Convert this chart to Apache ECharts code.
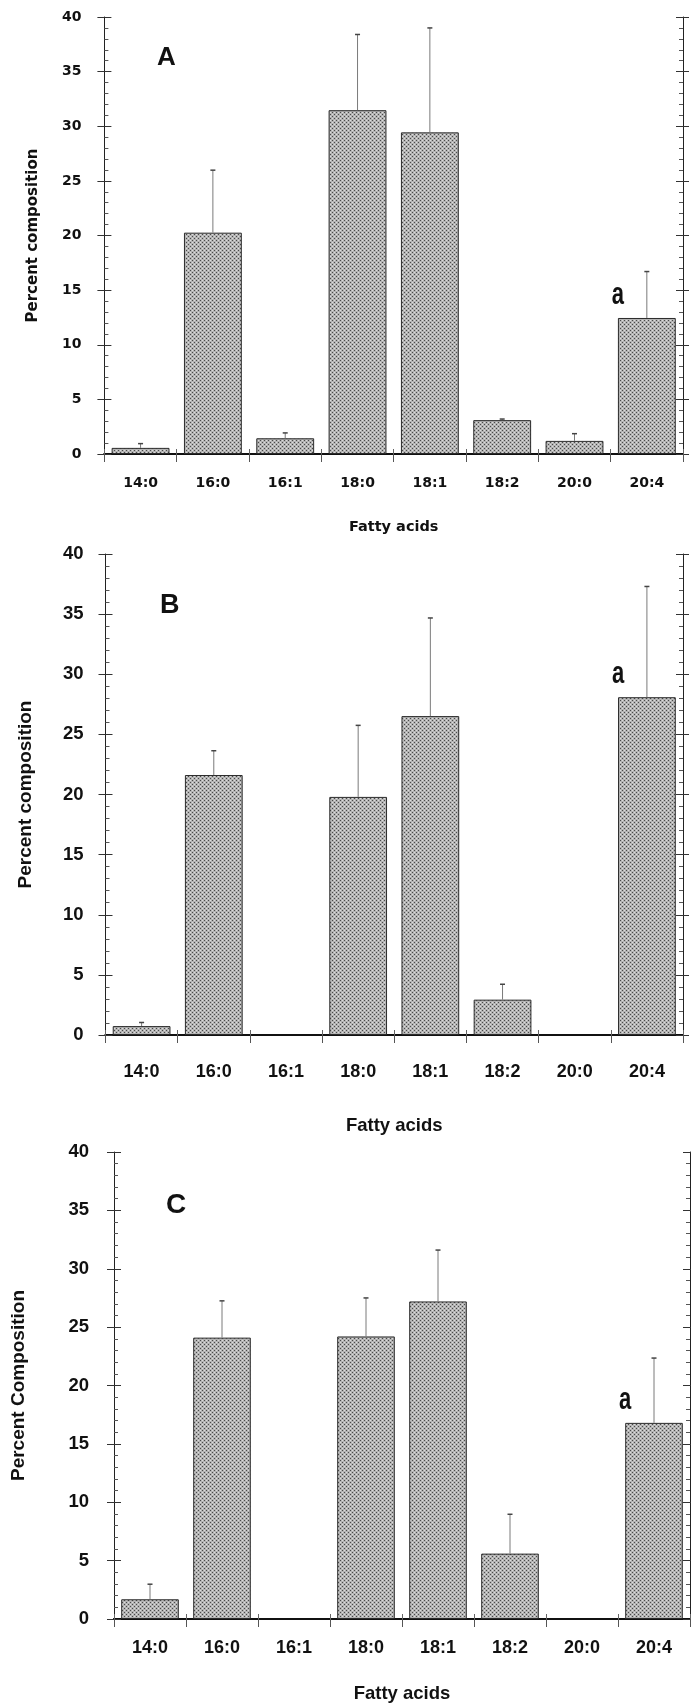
<!DOCTYPE html>
<html><head><meta charset="utf-8">
<script src="https://cdn.jsdelivr.net/npm/echarts@6/dist/echarts.min.js"></script>
<style>html,body{margin:0;padding:0;background:#fff}#c{width:691px;height:1706px}</style>
</head><body><div id="c"></div>
<script>
const categories = ['14:0','16:0','16:1','18:0','18:1','18:2','20:0','20:4'];

const valuesA = [0.56, 20.26, 1.44, 31.47, 29.44, 3.10, 1.20, 12.45];
const upperA  = [0.95, 25.98, 1.93, 38.40, 39.00, 3.20, 1.86, 16.70];

const valuesB = [0.74, 21.62, null, 19.80, 26.52, 2.94, null, 28.09];
const upperB  = [1.04, 23.64, null, 25.75, 34.68, 4.22, null, 37.30];

const valuesC = [1.69, 24.10, null, 24.20, 27.20, 5.60, null, 16.80];
const upperC  = [2.98, 27.25, null, 27.50, 31.60, 8.97, null, 22.35];

const panelLetters = ['A', 'B', 'C'];
const yTitles = ['Percent composition', 'Percent composition', 'Percent Composition'];
const xTitle = 'Fatty acids';
const annotIndex = 7;      // 'a' marker over 20:4
const annotText = 'a';

const panels = [
  {values: valuesA, upper: upperA, grid: {left: 104.4, top: 17, width: 578.6, height: 437},
   font: 'DejaVu Sans', tick: 14, yTick: 14, yName: 15, xName: 14.5, lblMargin: 22, xNameGap: 66,
   yNameGap: 64, yLblMargin: 23, letter: [157, 45], letterSize: 26},
  {values: valuesB, upper: upperB, grid: {left: 105.5, top: 554, width: 577.5, height: 481},
   font: 'Liberation Sans', tick: 18, yTick: 18.5, yName: 19, xName: 18.5, lblMargin: 28, xNameGap: 81,
   yNameGap: 70, yLblMargin: 22, letter: [160, 592], letterSize: 27},
  {values: valuesC, upper: upperC, grid: {left: 114, top: 1152, width: 576, height: 467},
   font: 'Liberation Sans', tick: 18, yTick: 18.5, yName: 19, xName: 18.5, lblMargin: 20, xNameGap: 65,
   yNameGap: 86, yLblMargin: 25, letter: [166, 1191], letterSize: 28}
];

function makePattern() {
  const c = document.createElement('canvas');
  c.width = 4; c.height = 4;
  const g = c.getContext('2d');
  g.fillStyle = '#b3b3b3'; g.fillRect(0, 0, 4, 4);
  g.fillStyle = '#4a4a4a'; g.fillRect(0, 0, 1, 1); g.fillRect(2, 2, 1, 1);
  g.fillStyle = '#dcdcdc'; g.fillRect(2, 0, 1, 1); g.fillRect(0, 2, 1, 1);
  return c;
}
const pattern = makePattern();

const grids = [], xAxes = [], yAxes = [], series = [], titles = [];
const ink = '#111';

panels.forEach((p, i) => {
  grids.push(Object.assign({containLabel: false}, p.grid));
  titles.push({text: panelLetters[i], left: p.letter[0], top: p.letter[1], padding: 0,
    textStyle: {fontFamily: 'Liberation Sans', fontWeight: 'bold', fontSize: p.letterSize, color: ink}});
  const base = {type: 'category', gridIndex: i, data: categories, boundaryGap: true};
  xAxes.push(Object.assign({}, base, {
    position: 'bottom',
    axisLine: {lineStyle: {color: ink, width: 2}},
    axisTick: {show: true, alignWithLabel: false, interval: 0, length: 8, lineStyle: {color: '#555'}},
    axisLabel: {interval: 0, fontFamily: p.font, fontWeight: 'bold', fontSize: p.tick, color: ink, margin: p.lblMargin},
    name: xTitle, nameLocation: 'middle', nameGap: p.xNameGap,
    nameTextStyle: {fontFamily: p.font, fontWeight: 'bold', fontSize: p.xName, color: ink}
  }));
  xAxes.push(Object.assign({}, base, {
    position: 'top',
    axisLine: {lineStyle: {color: ink, width: 2}},
    axisTick: {show: true, alignWithLabel: false, interval: 0, length: 5, lineStyle: {color: '#666'}},
    axisLabel: {show: false}
  }));
  const vbase = {type: 'value', gridIndex: i, min: 0, max: 40, interval: 5, splitLine: {show: false}};
  yAxes.push(Object.assign({}, vbase, {
    position: 'left',
    axisLine: {show: true, lineStyle: {color: '#222', width: 1}},
    axisTick: {show: true, length: 7, lineStyle: {color: '#333'}},
    axisLabel: {fontFamily: p.font, fontWeight: 'bold', fontSize: p.yTick, color: ink, margin: p.yLblMargin},
    name: yTitles[i], nameLocation: 'middle', nameGap: p.yNameGap,
    nameTextStyle: {fontFamily: p.font, fontWeight: 'bold', fontSize: p.yName, color: ink}
  }));
  yAxes.push(Object.assign({}, vbase, {
    position: 'left',
    axisLine: {show: false},
    axisTick: {show: true, inside: true, length: 7, lineStyle: {color: '#333'}},
    minorTick: {show: true, splitNumber: 5, length: 4, lineStyle: {color: '#555'}},
    axisLabel: {show: false}
  }));
  yAxes.push(Object.assign({}, vbase, {
    position: 'right',
    axisLine: {show: true, lineStyle: {color: '#222', width: 1}},
    axisTick: {show: true, inside: true, length: 7, lineStyle: {color: '#333'}},
    minorTick: {show: true, splitNumber: 5, length: 4, lineStyle: {color: '#555'}},
    axisLabel: {show: false}
  }));
  yAxes.push(Object.assign({}, vbase, {
    position: 'right',
    axisLine: {show: false},
    axisTick: {show: true, length: 6, lineStyle: {color: '#333'}},
    axisLabel: {show: false}
  }));

  series.push({
    type: 'bar', xAxisIndex: 2 * i, yAxisIndex: 4 * i,
    data: p.values, barCategoryGap: '20%',
    itemStyle: {color: {image: pattern, repeat: 'repeat'}, borderColor: '#2a2a2a', borderWidth: 1},
    silent: true
  });

  const errData = [];
  p.values.forEach((v, k) => { if (v != null && p.upper[k] != null) errData.push([k, v, p.upper[k]]); });
  series.push({
    type: 'custom', xAxisIndex: 2 * i, yAxisIndex: 4 * i, data: errData, silent: true, z: 5,
    renderItem: function (params, api) {
      const a = api.coord([api.value(0), api.value(1)]);
      const b = api.coord([api.value(0), api.value(2)]);
      return {type: 'group', children: [
        {type: 'line', shape: {x1: a[0], y1: a[1], x2: b[0], y2: b[1]}, style: {stroke: '#7a7a7a', lineWidth: 1}},
        {type: 'line', shape: {x1: b[0] - 2.5, y1: b[1], x2: b[0] + 2.5, y2: b[1]}, style: {stroke: '#444', lineWidth: 1.5}}
      ]};
    }
  });

  series.push({
    type: 'custom', xAxisIndex: 2 * i, yAxisIndex: 4 * i, silent: true, z: 6,
    data: [[annotIndex, p.values[annotIndex]]],
    renderItem: function (params, api) {
      const c = api.coord([api.value(0), api.value(1)]);
      const bw = api.size([1, 0])[0] * 0.8;
      return {type: 'text', x: c[0] - bw / 2, y: c[1] - 7, scaleY: 1.45,
        style: {text: annotText, fontFamily: 'Liberation Sans', fontWeight: 'bold', fontSize: 22,
          fill: ink, align: 'center', verticalAlign: 'bottom'}};
    }
  });
});

const chart = echarts.init(document.getElementById('c'), null, {renderer: 'canvas'});
chart.setOption({
  backgroundColor: '#fff',
  animation: false,
  title: titles,
  grid: grids,
  xAxis: xAxes,
  yAxis: yAxes,
  series: series
});
</script></body></html>
